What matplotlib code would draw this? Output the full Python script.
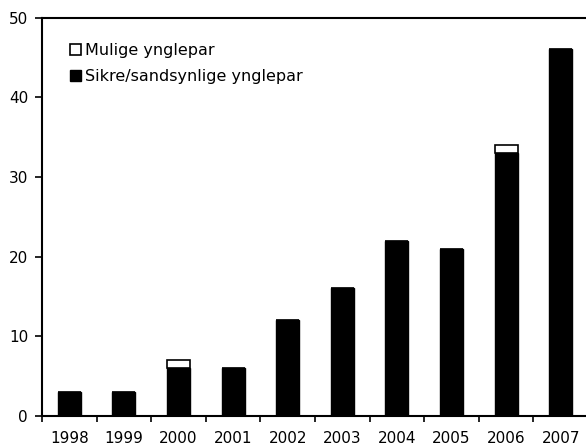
import matplotlib.pyplot as plt
import numpy as np
from matplotlib.patches import Patch

years = ["1998", "1999", "2000", "2001", "2002", "2003", "2004", "2005", "2006", "2007"]
sikre = [3, 3, 6, 6, 12, 16, 22, 21, 33, 46]
mulige = [0, 0, 1, 0, 0, 0, 0, 0, 1, 0]


def main() -> None:
    plt.rcParams["font.family"] = ["DejaVu Sans"]
    plt.rcParams["font.size"] = 11
    fig = plt.figure(figsize=(5.86, 4.43), dpi=100)
    ax = fig.add_axes([42 / 586, 1 - 416 / 443, 546 / 586, (416 - 17.5) / 443])

    x = np.arange(len(years))
    w = 0.42
    ax.bar(x, sikre, width=w, color="black", edgecolor="black", linewidth=1)
    ax.bar(x, mulige, width=w, bottom=sikre, color="white", edgecolor="black", linewidth=1.2)

    ax.set_xlim(-0.5, len(years) - 0.5)
    ax.set_ylim(0, 50)
    ax.set_yticks(range(0, 51, 10))
    ax.set_xticks(np.arange(-0.5, len(years), 1))
    ax.set_xticklabels([])
    ax.set_xticks(x, minor=True)
    ax.set_xticklabels(years, minor=True)
    ax.tick_params(axis="x", which="minor", length=0, pad=11)
    ax.tick_params(axis="x", which="major", length=4, width=1.2, direction="out")
    ax.tick_params(axis="y", length=5, width=1.2, direction="out", pad=5)
    for s in ax.spines.values():
        s.set_linewidth(1.5)
    ax.spines["right"].set_visible(False)

    handles = [Patch(facecolor="white", edgecolor="black", linewidth=1.2, label="Mulige ynglepar"),
               Patch(facecolor="black", edgecolor="black", label="Sikre/sandsynlige ynglepar")]
    ax.legend(handles=handles, loc="upper left", bbox_to_anchor=(0.039, 0.952), frameon=False,
              fontsize=11.5, handlelength=0.7, handleheight=0.7, handletextpad=0.25,
              labelspacing=0.7, borderaxespad=0)

    fig.savefig("out.png", dpi=100)
    plt.close(fig)


if __name__ == "__main__":
    main()
